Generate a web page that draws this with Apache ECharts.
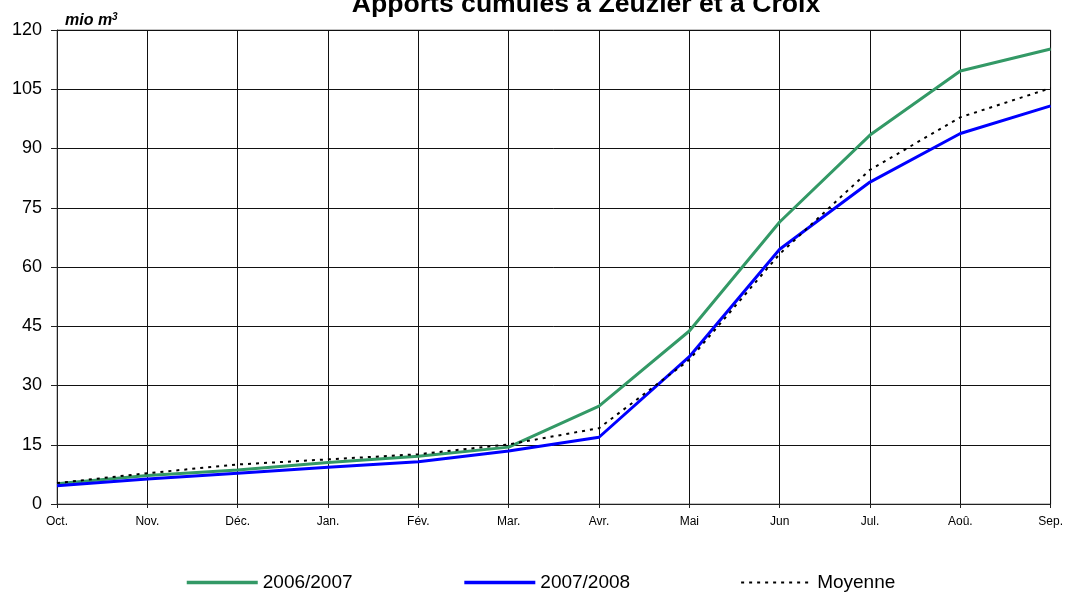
<!DOCTYPE html>
<html>
<head>
<meta charset="utf-8">
<script src="https://cdn.jsdelivr.net/npm/echarts@6/dist/echarts.min.js"></script>
<style>html,body{margin:0;padding:0;background:#fff}#c{width:1066px;height:592px}</style>
</head>
<body>
<div id="c"></div>
<script>
const months = ['Oct.', 'Nov.', 'Déc.', 'Jan.', 'Fév.', 'Mar.', 'Avr.', 'Mai', 'Jun', 'Jul.', 'Aoû.', 'Sep.'];
const s2006 = [5.1, 7.2, 8.6, 10.5, 12.1, 14.4, 24.8, 43.8, 71.4, 93.4, 109.6, 115.2];
const s2007 = [4.6, 6.3, 7.8, 9.3, 10.7, 13.4, 16.9, 37.3, 64.5, 81.5, 93.8, 100.8];
const moyenne = [5.3, 7.8, 10.0, 11.3, 12.6, 15.1, 19.2, 36.5, 63.3, 84.6, 97.9, 105.3];
const yTicks = [0, 15, 30, 45, 60, 75, 90, 105, 120];

const chart = echarts.init(document.getElementById('c'));
const font = 'Liberation Sans, Arial, sans-serif';
chart.setOption({
  animation: false,
  backgroundColor: '#fff',
  title: {
    text: 'Apports cumulés à Zeuzier et à Croix',
    left: 586, textAlign: 'center', top: -9, padding: 0,
    textStyle: { fontFamily: font, fontSize: 26.6, fontWeight: 'bold', color: '#000' }
  },
  graphic: [{
    type: 'text', left: 65, top: 12,
    style: {
      text: '{a|mio m}{b|3}',
      rich: {
        a: { fontFamily: font, fontSize: 16, fontWeight: 'bold', fontStyle: 'italic', fill: '#000' },
        b: { fontFamily: font, fontSize: 10, fontWeight: 'bold', fontStyle: 'italic', fill: '#000', verticalAlign: 'top', padding: [0, 0, 8, 0] }
      }
    }
  }],
  legend: {
    top: 568, left: 180,
    itemWidth: 71, itemHeight: 20, itemGap: 110,
    itemStyle: { opacity: 0 },
    textStyle: { fontFamily: font, fontSize: 19, color: '#000' },
    data: [
      { name: '2006/2007', lineStyle: { width: 3.5 } },
      { name: '2007/2008', lineStyle: { width: 3.5 } },
      { name: 'Moyenne', lineStyle: { width: 2 } }
    ]
  },
  grid: { left: 57, right: 15, top: 30, bottom: 88, containLabel: false, show: true, borderColor: '#888', borderWidth: 1 },
  xAxis: {
    type: 'category', data: months, boundaryGap: false,
    axisLine: { lineStyle: { color: '#222', width: 1 } },
    axisTick: { show: true, length: 4, lineStyle: { color: '#222' } },
    axisLabel: { fontFamily: font, fontSize: 12, color: '#000', margin: 12 },
    splitLine: { show: true, lineStyle: { color: '#111', width: 1 } }
  },
  yAxis: {
    type: 'value', min: 0, max: 120, interval: 15,
    axisLine: { show: true, lineStyle: { color: '#222' } },
    axisTick: { show: true, length: 6, lineStyle: { color: '#222' } },
    axisLabel: { fontFamily: font, fontSize: 18, color: '#000', margin: 15,
      formatter: v => yTicks.includes(v) ? String(v) : '' },
    splitLine: { show: true, lineStyle: { color: '#111', width: 1 } }
  },
  series: [
    { name: '2006/2007', type: 'line', data: s2006, symbol: 'none', color: '#339966',
      lineStyle: { color: '#339966', width: 3 }, z: 3 },
    { name: '2007/2008', type: 'line', data: s2007, symbol: 'none', color: '#0000ff',
      lineStyle: { color: '#0000ff', width: 3 }, z: 4 },
    { name: 'Moyenne', type: 'line', data: moyenne, symbol: 'none', color: '#000',
      lineStyle: { color: '#000', width: 2, type: [3, 5] }, z: 5 }
  ]
});
</script>
</body>
</html>
